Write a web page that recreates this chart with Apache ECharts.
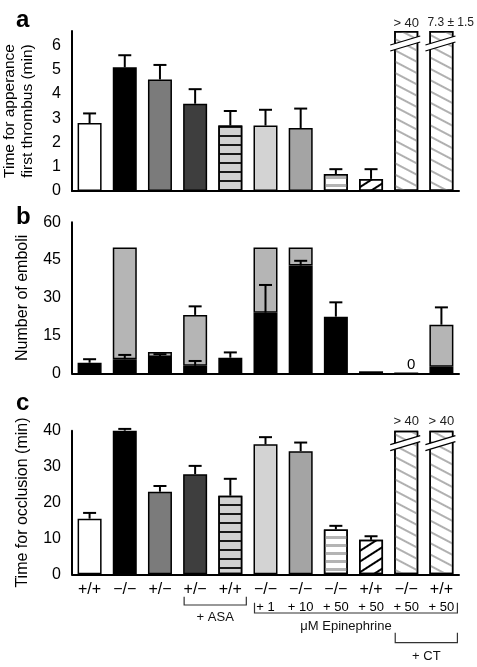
<!DOCTYPE html>
<html><head><meta charset="utf-8">
<script src="https://cdn.jsdelivr.net/npm/echarts@6/dist/echarts.min.js"></script>
<style>html,body{margin:0;padding:0;background:#fff}#c{width:477px;height:667px}</style>
</head><body><div id="c"></div>
<script>
// ---------- data ----------
const categories = ['c0','c1','c2','c3','c4','c5','c6','c7','c8','c9','c10'];
const genotypes = ['+/+','\u2212/\u2212','+/\u2212','+/\u2212','+/+','\u2212/\u2212','\u2212/\u2212','\u2212/\u2212','+/+','\u2212/\u2212','+/+'];
const doses = ['','','','','','+ 1','+ 10','+ 50','+ 50','+ 50','+ 50'];

// panel a: time for appearance of first thrombus (min)
const thrombusTime = [2.8, 5.1, 4.6, 3.6, 2.7, 2.7, 2.6, 0.7, 0.5, 6.6, 6.6];
const thrombusErrTop = [3.2, 5.6, 5.2, 4.2, 3.3, 3.35, 3.4, 0.9, 0.9, null, null];
const thrombusOffScale = ['', '', '', '', '', '', '', '', '', '> 40', '7.3 \u00b1 1.5'];

// panel b: number of emboli (black part + total incl. grey part)
const emboliBlack = [4.2, 5.6, 6.5, 3.0, 6.2, 24.1, 42.8, 22.5, 0.8, 0, 2.6];
const emboliTotal = [null, 50, 8.5, 23.2, null, 50, 50, null, null, null, 19.3];
const emboliBlackErrTop = [5.6, 7.3, 7.6, 4.9, 8.3, 35.1, 44.7, 28.2, null, null, null];
const emboliTotalErrTop = [null, null, null, 26.6, null, null, null, null, null, null, 26.2];
const emboliZeroText = ['', '', '', '', '', '', '', '', '', '0', ''];

// panel c: time for occlusion (min)
const occlusion = [15.5, 40, 23.0, 27.9, 21.9, 36.2, 34.3, 12.5, 9.6, 40, 40];
const occlusionErrTop = [17.1, 40.5, 24.6, 30.2, 26.6, 38.2, 36.7, 13.5, 10.6, null, null];
const occlusionOffScale = ['', '', '', '', '', '', '', '', '', '> 40', '> 40'];

// treatment groups under the x axis
const groupLabels = ['+ ASA', '\u03bcM Epinephrine', '+ CT'];
const groupFrom = [3, 5, 9];
const groupTo = [4, 10, 10];

// ---------- styles ----------
const FONT = 'Liberation Sans';
const BW = 24;
function hatch(color, gap, thick, rot) {
  return {symbol: 'rect', symbolSize: 1, dashArrayX: [[20, 0]], dashArrayY: [thick, gap], rotation: rot, color: color};
}
const barStyles = [
  {color: '#ffffff'},
  {color: '#000000'},
  {color: '#7b7b7b'},
  {color: '#3e3e3e'},
  {color: '#d2d2d2', decal: hatch('#1a1a1a', 7, 1.4, 0)},
  {color: '#d3d3d3'},
  {color: '#a4a4a4'},
  {color: '#ffffff', decal: hatch('#b4b4b4', 4.5, 3, 0)},
  {color: '#ffffff', decal: hatch('#000000', 6.5, 1.8, -Math.PI / 5.5)},
  {color: '#ffffff', decal: hatch('#b0b0b0', 8, 2, Math.PI / 6.5)},
  {color: '#ffffff', decal: hatch('#b0b0b0', 8, 2, Math.PI / 6.5)}
];
function styledData(vals) {
  return vals.map((v, i) => ({
    value: v,
    itemStyle: Object.assign({borderColor: '#000', borderWidth: 1.5}, barStyles[i])
  }));
}

// ---------- layout ----------
const grids = [
  {left: 72, right: 18, top: 31, height: 160},
  {left: 72, right: 18, top: 222.3, height: 151},
  {left: 72, right: 18, top: 430.7, height: 143.6}
].map(g => Object.assign({outerBoundsMode: 'none', containLabel: false}, g));

function xAxis(gi, showLabels) {
  return {
    type: 'category', gridIndex: gi, data: categories,
    axisLine: {show: true, lineStyle: {color: '#000', width: 2}},
    axisTick: {show: false},
    axisLabel: showLabels ? {
      show: true, margin: 6, interval: 0,
      formatter: (v, i) => '{g|' + genotypes[i] + '}\n{d|' + (doses[i] || ' ') + '}',
      rich: {
        g: {fontSize: 16, color: '#000', lineHeight: 18, fontFamily: FONT},
        d: {fontSize: 13, color: '#000', lineHeight: 18, fontFamily: FONT}
      }
    } : {show: false},
    splitLine: {show: false}
  };
}
function yAxis(gi, max, interval, name, nameSize, nameGap) {
  return {
    type: 'value', gridIndex: gi, min: 0, max: max, interval: interval,
    axisLine: {show: true, lineStyle: {color: '#000', width: 2}},
    axisTick: {show: false},
    splitLine: {show: false},
    axisLabel: {color: '#000', fontSize: 16, fontFamily: FONT, margin: 11,
      formatter: v => (Math.abs(v - Math.round(v)) < 1e-9 ? String(v) : '')},
    name: name, nameLocation: 'middle', nameGap: nameGap,
    nameTextStyle: {color: '#000', fontSize: nameSize, fontFamily: FONT, lineHeight: nameSize + 3}
  };
}

function errorSeries(gi, base, tops) {
  const data = [];
  tops.forEach((t, i) => { if (t != null) data.push([i, base[i], t]); });
  return {
    type: 'custom', xAxisIndex: gi, yAxisIndex: gi, z: 5,
    encode: {x: 0, y: [1, 2]},
    data: data,
    renderItem: (params, api) => {
      const p0 = api.coord([api.value(0), api.value(1)]);
      const p1 = api.coord([api.value(0), api.value(2)]);
      return {type: 'group', children: [
        {type: 'line', shape: {x1: p0[0], y1: p0[1], x2: p0[0], y2: p1[1]}, style: {stroke: '#000', lineWidth: 2}},
        {type: 'line', shape: {x1: p0[0] - 6.5, y1: p1[1], x2: p0[0] + 6.5, y2: p1[1]}, style: {stroke: '#000', lineWidth: 2}}
      ]};
    }
  };
}

function breakSeries(gi, vals, texts, labelGap) {
  const data = [];
  texts.forEach((t, i) => { if (t) data.push([i, vals[i], data.length]); });
  const labs = texts.filter(t => t);
  return {
    type: 'custom', xAxisIndex: gi, yAxisIndex: gi, z: 6,
    encode: {x: 0, y: 1},
    data: data,
    renderItem: (params, api) => {
      const p = api.coord([api.value(0), api.value(1)]);
      const xl = p[0] - BW / 2 - 4, xr = p[0] + BW / 2 + 2;
      const y = p[1];
      const txt = labs[api.value(2)];
      const wide = txt.length > 5;
      return {type: 'group', children: [
        {type: 'polygon', shape: {points: [[xl, y + 14], [xr, y + 5], [xr, y + 11], [xl, y + 20]]},
          style: {fill: '#fff', stroke: null}},
        {type: 'line', shape: {x1: xl, y1: y + 14, x2: xr, y2: y + 5}, style: {stroke: '#000', lineWidth: 1.3}},
        {type: 'line', shape: {x1: xl, y1: y + 20, x2: xr, y2: y + 11}, style: {stroke: '#000', lineWidth: 1.3}},
        {type: 'text', x: wide ? p[0] - BW / 2 - 2 : p[0], y: y - labelGap,
          style: {text: txt, fill: '#222', font: (wide ? '12px ' : '13px ') + FONT, align: wide ? 'left' : 'center', verticalAlign: 'middle'}}
      ]};
    }
  };
}

const groupSeries = {
  type: 'custom', xAxisIndex: 2, yAxisIndex: 2, z: 6,
  encode: {x: 0, y: 1},
  data: [[0, 0]],
  renderItem: (params, api) => {
    const y0 = api.coord([0, 0])[1];
    const rows = [[22.5, 30.7, 43], [28.4, 38.7, 52.4], [58.4, 68.4, 81.7]];
    const children = [];
    groupLabels.forEach((lab, k) => {
      const xa = api.coord([groupFrom[k], 0])[0] - 11;
      const xb = api.coord([groupTo[k], 0])[0] + 16;
      const r = rows[k];
      children.push({type: 'polyline', shape: {points: [[xa, y0 + r[0]], [xa, y0 + r[1]], [xb, y0 + r[1]], [xb, y0 + r[0]]]},
        style: {stroke: '#333', lineWidth: 1.2, fill: null}});
      children.push({type: 'text', x: (xa + xb) / 2 - (k === 1 ? 10 : 0), y: y0 + r[2],
        style: {text: lab, fill: '#111', font: '13px ' + FONT, align: 'center', verticalAlign: 'middle'}});
    });
    return {type: 'group', children: children};
  }
};

const emboliGrey = emboliTotal.map((t, i) => t == null ? '-' : +(t - emboliBlack[i]).toFixed(2));
const blackData = emboliBlack.map((v, i) => {
  const item = {value: v, itemStyle: {color: '#000', borderColor: '#000', borderWidth: 1.5}};
  if (emboliZeroText[i]) {
    item.label = {show: true, position: 'top', distance: 0, offset: [5, 0], formatter: emboliZeroText[i],
      color: '#000', fontSize: 15, fontFamily: FONT};
  }
  return item;
});

const option = {
  animation: false,
  backgroundColor: '#fff',
  textStyle: {fontFamily: FONT},
  grid: grids,
  xAxis: [xAxis(0, false), xAxis(1, false), xAxis(2, true)],
  yAxis: [
    yAxis(0, 6.6, 1, 'Time for apperance\nfirst thrombus (min)', 15.5, 35),
    yAxis(1, 60, 15, 'Number of emboli', 16, 37),
    yAxis(2, 40, 10, 'Time for occlusion (min)', 16, 35)
  ],
  series: [
    {type: 'bar', xAxisIndex: 0, yAxisIndex: 0, barWidth: BW, data: styledData(thrombusTime)},
    errorSeries(0, thrombusTime, thrombusErrTop),
    breakSeries(0, thrombusTime, thrombusOffScale, 8),

    {type: 'bar', xAxisIndex: 1, yAxisIndex: 1, barWidth: BW, stack: 'emb', data: blackData},
    {type: 'bar', xAxisIndex: 1, yAxisIndex: 1, barWidth: BW, stack: 'emb',
      itemStyle: {color: '#b5b5b5', borderColor: '#000', borderWidth: 1.5}, data: emboliGrey},
    errorSeries(1, emboliBlack, emboliBlackErrTop),
    errorSeries(1, emboliTotal, emboliTotalErrTop),

    {type: 'bar', xAxisIndex: 2, yAxisIndex: 2, barWidth: BW, data: styledData(occlusion)},
    errorSeries(2, occlusion, occlusionErrTop),
    breakSeries(2, occlusion, occlusionOffScale, 9),
    groupSeries
  ],
  graphic: [
    {type: 'text', x: 16, y: 20, style: {text: 'a', font: 'bold 24px ' + FONT, fill: '#000', verticalAlign: 'middle'}},
    {type: 'text', x: 16, y: 217, style: {text: 'b', font: 'bold 24px ' + FONT, fill: '#000', verticalAlign: 'middle'}},
    {type: 'text', x: 16, y: 403, style: {text: 'c', font: 'bold 24px ' + FONT, fill: '#000', verticalAlign: 'middle'}}
  ]
};

const chart = echarts.init(document.getElementById('c'), null, {renderer: 'canvas'});
chart.setOption(option);
</script>
</body></html>
